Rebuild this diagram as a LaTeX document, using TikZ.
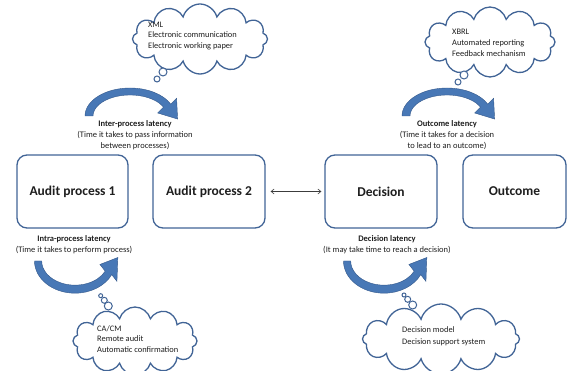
\documentclass[tikz,border=0pt]{standalone}
\usepackage{fontspec}
\setmainfont{Carlito}
\usetikzlibrary{shapes.symbols,arrows.meta}
\definecolor{edgeblue}{RGB}{65,100,150}
\definecolor{arrowfill}{RGB}{72,120,182}
\definecolor{arrowedge}{RGB}{52,88,138}
\definecolor{txt}{RGB}{30,30,30}
\definecolor{linkgray}{RGB}{60,60,60}
\tikzset{
  carrow/.pic={
    \fill[arrowfill, draw=arrowedge, line width=0.4pt]
      (180:45 and 28) arc[start angle=180, end angle=335, x radius=45, y radius=28]
      -- (46.6,-17.7) -- (47.6,3.05) -- (27.7,-3.0)
      -- (335:37 and 21) arc[start angle=335, end angle=180, x radius=37, y radius=21]
      -- cycle;
  }
}
\begin{document}
\begin{tikzpicture}[x=1pt,y=-1pt,
  procbox/.style={draw=edgeblue, line width=1.3pt, rounded corners=10pt, minimum height=73pt,
    font=\fontsize{13.5}{15}\selectfont\bfseries, text=txt},
  lbl/.style={align=center, font=\fontsize{8.5}{11}\selectfont, text=txt},
  cloudshape/.style={cloud, cloud puffs=12, cloud ignores aspect, draw=edgeblue, line width=1.3pt, inner sep=0pt, fill=white},
  cloudtxt/.style={align=left, font=\fontsize{8.4}{10.8}\selectfont, text=txt, inner sep=0pt},
  bubble/.style={circle, draw=edgeblue, line width=1pt, inner sep=0pt, fill=white}
]
\useasboundingbox (0,0) rectangle (568,371);

% process boxes
\node[procbox, minimum width=111pt] (ap1) at (72.5,191.5) {Audit process 1};
\node[procbox, minimum width=112pt] (ap2) at (209,191.5) {Audit process 2};
\node[procbox, minimum width=112pt] (dec) at (381,191.5) {Decision};
\node[procbox, minimum width=103pt] (out) at (514.5,191.5) {Outcome};

\draw[linkgray, line width=0.6pt, {Straight Barb[length=3pt,width=5pt]}-{Straight Barb[length=3pt,width=5pt]},
  shorten <=5pt, shorten >=3pt] (ap2) -- (dec);

% labels
\node[lbl] (interlbl) at (135,135) {\textbf{Inter-process latency}\\(Time it takes to pass information\\between processes)};
\node[lbl] (outlbl) at (447,135) {\textbf{Outcome latency}\\(Time it takes for a decision\\to lead to an outcome)};
\node[lbl] (intralbl) at (74,245) {\textbf{Intra-process latency}\\(Time it takes to perform process)};
\node[lbl] (declbl) at (387,245) {\textbf{Decision latency}\\(It may take time to reach a decision)};

% curved arrows
\pic (a1) at (130,116) {carrow};
\pic (a2) at (447,116) {carrow};
\pic[xscale=0.9, yscale=-1.15] (a3) at (75,261) {carrow};
\pic[xscale=0.9, yscale=-1.15] (a4) at (384,261) {carrow};

% top-left cloud
\node[cloudshape, minimum width=135pt, minimum height=70pt] (c1) at (200,39) {};
\node[cloudtxt, anchor=west] (c1t) at (148,36) {XML\\Electronic communication\\Electronic working paper};
\node[bubble, minimum size=8pt] (c1b1) at (163,72) {};
\node[bubble, minimum size=6pt] (c1b2) at (157,79) {};

% top-right cloud
\node[cloudshape, minimum width=130pt, minimum height=70pt] (c2) at (490,42) {};
\node[cloudtxt, anchor=west] (c2t) at (452,43) {XBRL\\Automated reporting\\Feedback mechanism};
\node[bubble, minimum size=8pt] (c2b1) at (464,75) {};
\node[bubble, minimum size=6pt] (c2b2) at (458,82) {};

% bottom-left cloud
\node[cloudshape, minimum width=124pt, minimum height=68pt] (c3) at (135,341) {};
\node[cloudtxt, anchor=west] (c3t) at (97,339) {CA/CM\\Remote audit\\Automatic confirmation};
\node[bubble, minimum size=4pt] (c3b1) at (100.7,295.7) {};
\node[bubble, minimum size=6pt] (c3b2) at (104.3,300.3) {};
\node[bubble, minimum size=8pt] (c3b3) at (108.3,306) {};

% bottom-right cloud
\node[cloudshape, minimum width=157pt, minimum height=70pt] (c4) at (441,339) {};
\node[cloudtxt, anchor=west] (c4t) at (402,336) {Decision model\\[1.5pt]Decision support system};
\node[bubble, minimum size=4pt] (c4b1) at (404,295) {};
\node[bubble, minimum size=6pt] (c4b2) at (407.7,299.3) {};
\node[bubble, minimum size=8pt] (c4b3) at (412.7,305) {};
\end{tikzpicture}
\end{document}
